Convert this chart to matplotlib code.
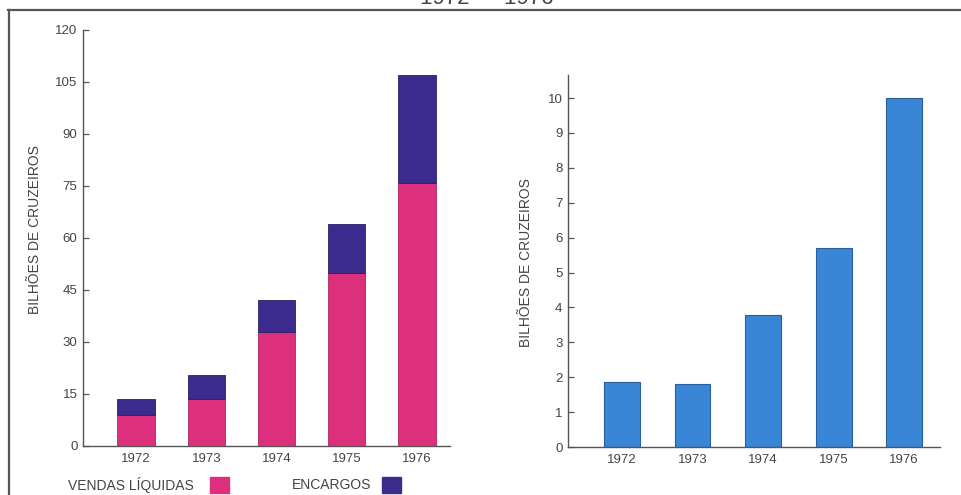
import matplotlib
matplotlib.use("Agg")
import matplotlib.pyplot as plt
from matplotlib.lines import Line2D
from matplotlib.patches import Rectangle

# Dados (bilhões de cruzeiros)
anos = ["1972", "1973", "1974", "1975", "1976"]
vendas_liquidas = [9, 13.5, 33, 50, 76]
encargos = [4.5, 7, 9, 14, 31]
lucro = [1.85, 1.8, 3.78, 5.7, 10]

ticks_esq = [0, 15, 30, 45, 60, 75, 90, 105, 120]
ticks_dir = [0, 1, 2, 3, 4, 5, 6, 7, 8, 9, 10]

ROSA = "#dc2f7c"
AZUL_ESC = "#3a2b8c"
AZUL = "#3a86d6"
CINZA = "#444444"

plt.rcParams["font.family"] = ["Liberation Sans", "DejaVu Sans"]

W, H = 961, 495
fig = plt.figure(figsize=(W / 100, H / 100), dpi=100)
fig.patch.set_facecolor("white")


def px_axes(x0, x1, ytop, ybot):
    return fig.add_axes([x0 / W, (H - ybot) / H, (x1 - x0) / W, (ybot - ytop) / H])


def estilo(ax):
    for s in ("top", "right"):
        ax.spines[s].set_visible(False)
    for s in ("left", "bottom"):
        ax.spines[s].set_color("#555555")
        ax.spines[s].set_linewidth(1.0)
    ax.tick_params(axis="y", direction="in", length=4, width=0.9, color="#555555",
                   labelsize=9.5, labelcolor=CINZA, pad=4)
    ax.tick_params(axis="x", length=0, labelsize=9.5, labelcolor=CINZA, pad=5)
    ax.set_facecolor("white")


x = list(range(len(anos)))

# grafico da esquerda: vendas liquidas + encargos
ax1 = px_axes(83, 450, 30, 446)
ax1.bar(x, vendas_liquidas, width=0.53, color=ROSA, edgecolor="#b0245f", linewidth=0.6)
ax1.bar(x, encargos, width=0.53, bottom=vendas_liquidas, color=AZUL_ESC,
        edgecolor="#2a1f6a", linewidth=0.6)
ax1.set_xlim(-0.755, 4.47)
ax1.set_ylim(0, 120)
ax1.set_yticks(ticks_esq)
ax1.set_xticks(x)
ax1.set_xticklabels(anos)
estilo(ax1)
ax1.set_ylabel("BILHÕES DE CRUZEIROS", fontsize=10, color=CINZA)
ax1.yaxis.set_label_coords(-0.112, 0.52)

# grafico da direita
ax2 = px_axes(568, 940, 75, 447)
ax2.bar(x, lucro, width=0.51, color=AZUL, edgecolor="#2a5f9e", linewidth=0.8)
ax2.set_xlim(-0.766, 4.51)
ax2.set_ylim(0, 10.66)
ax2.set_yticks(ticks_dir)
ax2.set_xticks(x)
ax2.set_xticklabels(anos)
estilo(ax2)
ax2.set_ylabel("BILHÕES DE CRUZEIROS", fontsize=10, color=CINZA)
ax2.yaxis.set_label_coords(-0.094, 0.497)

# moldura
fig.add_artist(Line2D([8 / W, 1], [(H - 10) / H] * 2, transform=fig.transFigure,
                      color="#555555", lw=1.6))
fig.add_artist(Line2D([9 / W] * 2, [0, (H - 10) / H], transform=fig.transFigure,
                      color="#555555", lw=1.6))

# titulo (cortado no topo)
fig.text(487 / W, (H - 4) / H, "1972 — 1976", ha="center", va="baseline",
         fontsize=16, color=CINZA)

# legenda
fig.text(68 / W, (H - 485) / H, "VENDAS LÍQUIDAS", ha="left", va="center",
         fontsize=10, color=CINZA)
fig.text(292 / W, (H - 485) / H, "ENCARGOS", ha="left", va="center",
         fontsize=10, color=CINZA)
fig.add_artist(Rectangle((210 / W, (H - 493) / H), 19 / W, 16 / H,
                         transform=fig.transFigure, color=ROSA))
fig.add_artist(Rectangle((382 / W, (H - 493) / H), 19 / W, 16 / H,
                         transform=fig.transFigure, color=AZUL_ESC))

fig.savefig("out.png", dpi=100)
